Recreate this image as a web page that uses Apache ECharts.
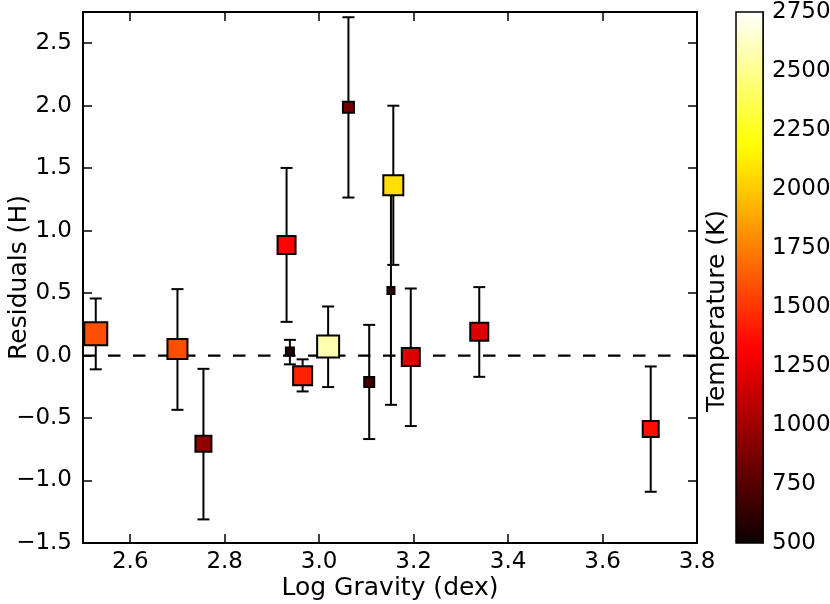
<!DOCTYPE html>
<html>
<head>
<meta charset="utf-8">
<script src="https://cdn.jsdelivr.net/npm/echarts@6/dist/echarts.min.js"></script>
<style>
  html, body { margin: 0; padding: 0; background: #fff; }
  #chart { width: 830px; height: 604px; }
</style>
</head>
<body>
<div id="chart"></div>
<script>
// data
var logg      = [2.527, 2.700, 2.755, 2.931, 2.938, 2.965, 3.019, 3.062, 3.157, 3.152, 3.106, 3.194, 3.339, 3.702];
var residuals = [0.174, 0.052, -0.706, 0.886, 0.033, -0.161, 0.073, 1.988, 1.364, 0.521, -0.212, -0.012, 0.190, -0.588];
var errLow    = [-0.110, -0.434, -1.311, 0.270, -0.070, -0.287, -0.252, 1.265, 0.726, -0.394, -0.668, -0.564, -0.170, -1.090];
var errHigh   = [0.457, 0.532, -0.106, 1.502, 0.126, -0.030, 0.393, 2.708, 2.000, 1.436, 0.246, 0.537, 0.548, -0.087];
var temps     = [1580, 1580, 950, 1320, 600, 1430, 2570, 850, 2070, 620, 680, 1210, 1210, 1370];
var markSize  = [23, 20, 16, 18, 8, 19, 22, 11, 20, 7, 10, 18, 18, 16];

var xTicks = [2.6, 2.8, 3.0, 3.2, 3.4, 3.6, 3.8];
var yTicks = [-1.5, -1.0, -0.5, 0.0, 0.5, 1.0, 1.5, 2.0, 2.5];
var tempRange = [500, 2750];
var zeroLine = [[2.5, 0], [3.8, 0]];

// matplotlib "hot" colormap
function hot(t) {
  var r = t < 0.365079 ? 0.0416 + (1 - 0.0416) * t / 0.365079 : 1;
  var g = t < 0.365079 ? 0 : (t < 0.746032 ? (t - 0.365079) / 0.380953 : 1);
  var b = t < 0.746032 ? 0 : (t - 0.746032) / 0.253968;
  return 'rgb(' + Math.round(r * 255) + ',' + Math.round(g * 255) + ',' + Math.round(b * 255) + ')';
}
var hotColors = [], hotStops = [];
for (var i = 0; i <= 60; i++) {
  hotColors.push(hot(i / 60));
  hotStops.push({ offset: i / 60, color: hot(i / 60) });
}

var pts = [], bars = [];
for (var k = 0; k < logg.length; k++) {
  pts.push([logg[k], residuals[k], temps[k], markSize[k]]);
  bars.push([logg[k], errLow[k], errHigh[k]]);
}

function fmt(v) {
  var s = Math.abs(v).toFixed(1);
  return v < 0 ? '\u2212' + s : s;
}

var FONT = 'DejaVu Sans';
var frame = { show: true, onZero: false, lineStyle: { color: '#000', width: 2 } };
var tick = { inside: true, length: 9, lineStyle: { color: '#000', width: 1.5 } };

var chart = echarts.init(document.getElementById('chart'));
chart.setOption({
  animation: false,
  textStyle: { fontFamily: FONT, color: '#000' },
  grid: [
    { left: 83, top: 12, width: 614, height: 531, outerBoundsMode: 'none' },
    { left: 736, top: 12, width: 27, height: 531, outerBoundsMode: 'none' }
  ],
  xAxis: [
    {
      type: 'value', gridIndex: 0, position: 'bottom', min: 2.5, max: 3.8,
      name: 'Log Gravity (dex)', nameLocation: 'middle', nameGap: 33, nameMoveOverlap: false,
      nameTextStyle: { fontSize: 25, fontFamily: FONT, color: '#000' },
      axisLine: frame,
      axisTick: Object.assign({ customValues: xTicks }, tick),
      axisLabel: { customValues: xTicks, formatter: fmt, fontSize: 23, margin: 8, color: '#000', fontFamily: FONT },
      splitLine: { show: false }
    },
    {
      type: 'value', gridIndex: 0, position: 'top', min: 2.5, max: 3.8,
      axisLine: frame,
      axisTick: Object.assign({ customValues: xTicks }, tick),
      axisLabel: { show: false },
      splitLine: { show: false }
    },
    {
      type: 'category', gridIndex: 1, data: ['T'], show: false
    }
  ],
  yAxis: [
    {
      type: 'value', gridIndex: 0, position: 'left', min: -1.5, max: 2.75,
      name: 'Residuals (H)', nameLocation: 'middle', nameGap: 51, nameRotate: 90, nameMoveOverlap: false,
      nameTextStyle: { fontSize: 25, fontFamily: FONT, color: '#000' },
      axisLine: frame,
      axisTick: Object.assign({ customValues: yTicks }, tick),
      axisLabel: { customValues: yTicks, formatter: fmt, fontSize: 23, margin: 11, color: '#000', fontFamily: FONT },
      splitLine: { show: false }
    },
    {
      type: 'value', gridIndex: 0, position: 'right', min: -1.5, max: 2.75,
      axisLine: frame,
      axisTick: Object.assign({ customValues: yTicks }, tick),
      axisLabel: { show: false },
      splitLine: { show: false }
    },
    {
      type: 'value', gridIndex: 1, position: 'right', min: tempRange[0], max: tempRange[1], interval: 250,
      axisLine: { show: true, onZero: false, lineStyle: { color: '#000', width: 1.5 } },
      axisTick: { inside: true, length: 7, lineStyle: { color: '#000', width: 1.5 } },
      axisLabel: { fontSize: 23, margin: 9, color: '#000', fontFamily: FONT, formatter: function (v) { return String(v); } },
      splitLine: { show: false }
    }
  ],
  visualMap: {
    type: 'continuous', show: false, seriesIndex: 2, dimension: 2,
    min: tempRange[0], max: tempRange[1],
    inRange: { color: hotColors }
  },
  graphic: [{
    type: 'text', x: 717, y: 311, rotation: Math.PI / 2,
    style: { text: 'Temperature (K)', font: '25px "DejaVu Sans"', fill: '#000', align: 'center', verticalAlign: 'middle' }
  }],
  series: [
    {
      type: 'line', xAxisIndex: 0, yAxisIndex: 0, data: zeroLine, symbol: 'none', z: 1,
      lineStyle: { color: '#000', width: 2.2, type: [12.5, 12.5] }
    },
    {
      type: 'custom', xAxisIndex: 0, yAxisIndex: 0, data: bars, z: 2,
      renderItem: function (params, api) {
        var x = api.value(0);
        var lo = api.coord([x, api.value(1)]);
        var hi = api.coord([x, api.value(2)]);
        var cap = 6;
        var st = { stroke: '#000', lineWidth: 2 };
        return {
          type: 'group',
          children: [
            { type: 'line', shape: { x1: lo[0], y1: lo[1], x2: hi[0], y2: hi[1] }, style: st },
            { type: 'line', shape: { x1: lo[0] - cap, y1: lo[1], x2: lo[0] + cap, y2: lo[1] }, style: st },
            { type: 'line', shape: { x1: hi[0] - cap, y1: hi[1], x2: hi[0] + cap, y2: hi[1] }, style: st }
          ]
        };
      }
    },
    {
      type: 'scatter', xAxisIndex: 0, yAxisIndex: 0, data: pts, z: 3,
      symbol: 'rect',
      symbolSize: function (v) { return v[3]; },
      itemStyle: { borderColor: '#000', borderWidth: 2, opacity: 1 }
    },
    {
      type: 'custom', xAxisIndex: 2, yAxisIndex: 2, data: [[0, tempRange[0], tempRange[1]]], z: 1,
      renderItem: function (params, api) {
        var b = api.coord([0, api.value(1)]);
        var t = api.coord([0, api.value(2)]);
        var w = api.size([1, 0])[0];
        return {
          type: 'rect',
          shape: { x: b[0] - w / 2, y: t[1], width: w, height: b[1] - t[1] },
          style: {
            fill: new echarts.graphic.LinearGradient(0, 1, 0, 0, hotStops),
            stroke: '#000', lineWidth: 1.5
          }
        };
      }
    }
  ]
});
</script>
</body>
</html>
